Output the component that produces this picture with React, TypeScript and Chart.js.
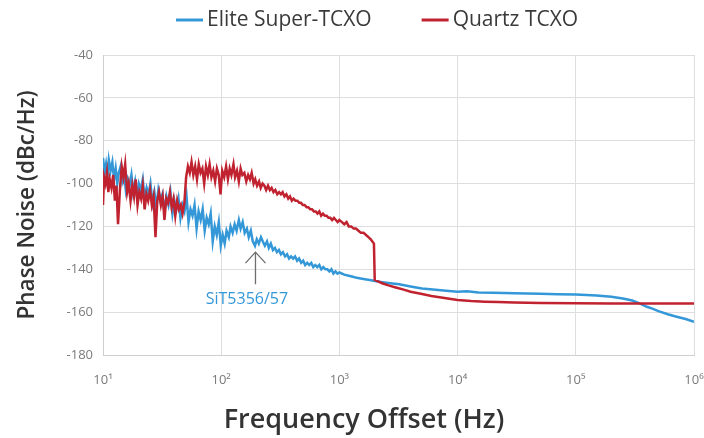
import React, { useEffect, useRef } from 'react';
import { Chart, registerables } from 'chart.js';

Chart.register(...registerables);

const seriesNames = ['Elite Super-TCXO', 'Quartz TCXO'];
const seriesColors = ['#3498d8', '#c0222f'];

const eliteFreq = [
  10, 10.3, 10.6, 10.9, 11.2, 11.6, 12.0, 12.4, 12.8, 13.2, 13.6, 14.1, 14.6, 15.1, 15.6, 16.2, 16.8, 17.4, 18.0, 18.7,
  19.4, 20.1, 20.9, 21.7, 22.5, 23.4, 24.3, 25.2, 26.2, 27.2, 28.3, 29.4, 30.6, 31.8, 33.1, 34.4, 35.8, 37.2, 38.7, 40.2,
  41.8, 43.5, 45.2, 47.0, 48.9, 50.9, 52.9, 55.0, 57.2, 59.5, 61.9, 64.4, 67.0, 69.7, 72.5, 75.4, 78.4, 81.5, 84.8, 88.2,
  91.7, 95.4, 99.2, 103, 107, 111, 116, 120, 125, 130, 135, 141, 146, 152, 158, 165, 171, 178, 185, 193,
  200, 208, 217, 225, 234, 244, 253, 263, 274, 285, 296, 308, 320, 333, 347, 361, 375, 390, 406, 422,
  439, 456, 475, 494, 513, 534, 556, 578, 601, 625, 650, 676, 703, 731, 761, 791, 823, 856, 890, 926,
  963, 1000, 1100, 1200, 1300, 1400, 1600, 1800, 2000, 2300, 2700, 3200, 4000, 5000, 6500, 8000, 10000, 12000, 15000, 20000,
  30000, 50000, 70000, 100000, 150000, 200000, 250000, 300000, 350000, 400000, 450000, 500000, 600000, 700000, 850000, 1000000,
];
const eliteValues = [
  -88, -95, -91, -97, -89, -94, -90, -98, -93, -100, -95, -92, -99, -96, -103, -98, -101, -96, -104, -99,
  -106, -100, -103, -98, -107, -102, -105, -100, -109, -104, -111, -103, -108, -105, -113, -106, -110, -104, -114, -108,
  -112, -107, -116, -110, -113, -106, -118, -112, -115, -110, -121, -113, -117, -112, -122, -116, -119, -114, -127, -120,
  -124, -118, -129, -124, -128, -122, -125, -120, -123, -119, -122, -117, -121, -118, -123, -121, -125, -122, -127, -129,
  -126, -128, -125, -127, -129, -127, -130, -128, -131, -130, -132, -131, -133, -132, -134, -133, -135, -134, -135, -134,
  -136, -135, -137, -136, -138, -137, -138, -137, -139, -138, -139, -138, -140, -139, -140, -140, -141, -140, -142, -141,
  -142, -141.5, -142.5, -143, -143.5, -144, -144.5, -145, -145.5, -146, -146.5, -147, -148, -149, -149.5, -150, -150.5, -150.3, -150.8, -151,
  -151.2, -151.4, -151.6, -151.8, -152.2, -152.8, -153.6, -154.6, -156, -157.5, -158.5, -159.5, -161, -162, -163.2, -164.5,
];

const quartzFreq = [
  10, 10.2, 10.5, 10.8, 11.1, 11.4, 11.8, 12.2, 12.6, 13.0, 13.4, 13.9, 14.4, 14.9, 15.4, 16.0, 16.5, 17.1, 17.7, 18.3,
  18.9, 19.6, 20.3, 21.0, 21.7, 22.5, 23.3, 24.1, 25.0, 25.9, 26.8, 27.8, 28.8, 29.8, 30.9, 32.0, 33.1, 34.3, 35.5, 36.8,
  38.1, 39.5, 40.9, 42.4, 43.9, 45.5, 47.1, 48.8, 50.5, 52.3, 54.2, 56.1, 58.1, 60.2, 62.4, 64.6, 66.9, 69.3, 71.8, 74.4,
  77.1, 79.8, 82.7, 85.7, 88.8, 92.0, 95.3, 98.7, 102, 106, 110, 114, 118, 122, 127, 131, 136, 141, 146, 151,
  157, 163, 169, 175, 181, 188, 194, 201, 209, 216, 224, 232, 240, 249, 258, 267, 277, 287, 298, 309,
  320, 331, 343, 356, 369, 382, 396, 410, 425, 441, 457, 473, 490, 508, 527, 546, 566, 586, 608, 630,
  653, 676, 701, 726, 753, 780, 808, 838, 868, 900, 933, 967, 1000, 1050, 1100, 1150, 1200, 1260, 1320, 1380,
  1450, 1520, 1600, 1680, 1760, 1840, 1900, 1960, 1990, 2100, 2300, 2600, 3000, 3500, 4000, 5000, 6000, 8000, 10000, 13000,
  17000, 22000, 30000, 50000, 100000, 200000, 500000, 1000000,
];
const quartzValues = [
  -110, -97, -100, -95, -104, -98, -102, -96, -108, -101, -119, -103, -92, -97, -91, -104, -100, -108, -101, -106,
  -98, -110, -104, -107, -101, -112, -105, -108, -103, -110, -106, -125, -108, -104, -110, -106, -117, -107, -109, -104,
  -111, -107, -115, -108, -112, -110, -114, -109, -97, -92, -95, -90, -96, -92, -98, -91, -95, -93, -100, -92,
  -96, -91, -97, -94, -99, -93, -96, -105, -94, -97, -92, -98, -93, -96, -91, -97, -94, -99, -93, -96,
  -95, -99, -96, -98, -95, -100, -98, -101, -99, -102, -100, -101, -103, -101, -103, -102, -104, -103, -105, -104,
  -105, -104, -106, -105, -107, -106, -108, -107, -108, -108, -109, -109, -110, -110, -111, -111, -112, -112, -113, -113,
  -114, -113, -115, -114, -115, -115, -116, -116, -117, -116, -117, -118, -117, -118, -119, -118, -120, -120, -121, -121,
  -122, -123, -123, -124, -125, -126, -127, -128, -145, -145.5, -146.5, -147.5, -148.5, -149.5, -150.5, -151.5, -152.5, -153.5, -154.3, -154.8,
  -155.1, -155.3, -155.5, -155.7, -155.8, -156, -156, -156,
];

const xTickValues = [10, 100, 1000, 10000, 100000, 1000000];
const xTickLabels = ['10\u00B9', '10\u00B2', '10\u00B3', '10\u2074', '10\u2075', '10\u2076'];
const yMin = -180;
const yMax = -40;
const yStep = 20;

const xTitle = 'Frequency Offset (Hz)';
const yTitle = 'Phase Noise (dBc/Hz)';

const annotationText = 'SiT5356/57';
const annotationFreq = 195;
const annotationTip = -132;
const annotationTail = -147;
const annotationLabel = -154;
const annotationLabelFreq = 165;

const FONT = "'Open Sans', 'DejaVu Sans', sans-serif";

const toPoints = (xs: number[], ys: number[]) => xs.map((x, i) => ({ x, y: ys[i] }));

const decorPlugin = {
  id: 'decor',
  afterDraw(chart: any) {
    const { ctx, scales } = chart;
    const xs = scales.x;
    const ys = scales.y;
    ctx.save();
    // legend
    ctx.font = `21px ${FONT}`;
    ctx.textBaseline = 'middle';
    ctx.textAlign = 'left';
    const legendY = 20;
    let lx = 176;
    seriesNames.forEach((name, i) => {
      ctx.strokeStyle = seriesColors[i];
      ctx.lineWidth = 3;
      ctx.beginPath();
      ctx.moveTo(lx, legendY);
      ctx.lineTo(lx + 27, legendY);
      ctx.stroke();
      ctx.fillStyle = '#3a3a3a';
      ctx.fillText(name, lx + 31, legendY);
      lx += 31 + ctx.measureText(name).width + 50;
    });
    // x axis title
    ctx.font = `600 27px ${FONT}`;
    ctx.fillStyle = '#333333';
    ctx.textAlign = 'center';
    ctx.textBaseline = 'alphabetic';
    ctx.fillText(xTitle, 364, 428);
    // annotation arrow
    const ax = xs.getPixelForValue(annotationFreq);
    const tipY = ys.getPixelForValue(annotationTip);
    const tailY = ys.getPixelForValue(annotationTail);
    ctx.strokeStyle = '#6e6e6e';
    ctx.lineWidth = 1.3;
    ctx.beginPath();
    ctx.moveTo(ax, tailY);
    ctx.lineTo(ax, tipY);
    ctx.moveTo(ax - 10, tipY + 11);
    ctx.lineTo(ax, tipY);
    ctx.lineTo(ax + 10, tipY + 11);
    ctx.stroke();
    ctx.font = `16px ${FONT}`;
    ctx.fillStyle = seriesColors[0];
    ctx.textAlign = 'center';
    ctx.textBaseline = 'middle';
    ctx.fillText(annotationText, xs.getPixelForValue(annotationLabelFreq), ys.getPixelForValue(annotationLabel));
    ctx.restore();
  },
};

export default function App() {
  const canvasRef = useRef<HTMLCanvasElement | null>(null);

  useEffect(() => {
    document.body.style.margin = '0';
    const canvas = canvasRef.current;
    if (!canvas) return;
    const chart = new Chart(canvas, {
      type: 'line',
      data: {
        datasets: [
          {
            label: seriesNames[1],
            data: toPoints(quartzFreq, quartzValues),
            borderColor: seriesColors[1],
            backgroundColor: seriesColors[1],
            borderWidth: 2.5,
            pointRadius: 0,
            tension: 0,
          },
          {
            label: seriesNames[0],
            data: toPoints(eliteFreq, eliteValues),
            borderColor: seriesColors[0],
            backgroundColor: seriesColors[0],
            borderWidth: 2.5,
            pointRadius: 0,
            tension: 0,
          },
        ],
      },
      options: {
        responsive: false,
        animation: false,
        layout: { padding: { top: 55, right: 10, left: 0, bottom: 0 } },
        plugins: {
          legend: { display: false },
          tooltip: { enabled: false },
        },
        scales: {
          x: {
            type: 'logarithmic',
            min: 10,
            max: 1000000,
            afterBuildTicks: (scale: any) => {
              scale.ticks = xTickValues.map((v) => ({ value: v }));
            },
            afterFit: (scale: any) => {
              scale.height = 83;
              scale.paddingRight = 0;
              scale.paddingLeft = 0;
            },
            ticks: {
              autoSkip: false,
              maxRotation: 0,
              padding: 17,
              color: '#7a7a7a',
              font: { family: FONT, size: 13 },
              callback: (_v: any, i: number) => xTickLabels[i],
            },
            grid: { color: '#dedede', lineWidth: 1, drawTicks: false },
            border: { display: true, color: '#cfcfcf' },
          },
          y: {
            min: yMin,
            max: yMax,
            afterFit: (scale: any) => {
              scale.width = 103;
            },
            ticks: {
              stepSize: yStep,
              padding: 10,
              color: '#7a7a7a',
              font: { family: FONT, size: 13 },
            },
            grid: { color: '#dedede', lineWidth: 1, drawTicks: false },
            border: { display: true, color: '#cfcfcf' },
            title: {
              display: true,
              text: yTitle,
              color: '#333333',
              font: { family: FONT, size: 22.5, weight: '600' },
              padding: { top: 14, bottom: 0 },
            },
          },
        },
      },
      plugins: [decorPlugin],
    });
    return () => chart.destroy();
  }, []);

  return (
    <div style={{ width: 704, height: 438, background: '#ffffff' }}>
      <canvas ref={canvasRef} width={704} height={438} />
    </div>
  );
}
